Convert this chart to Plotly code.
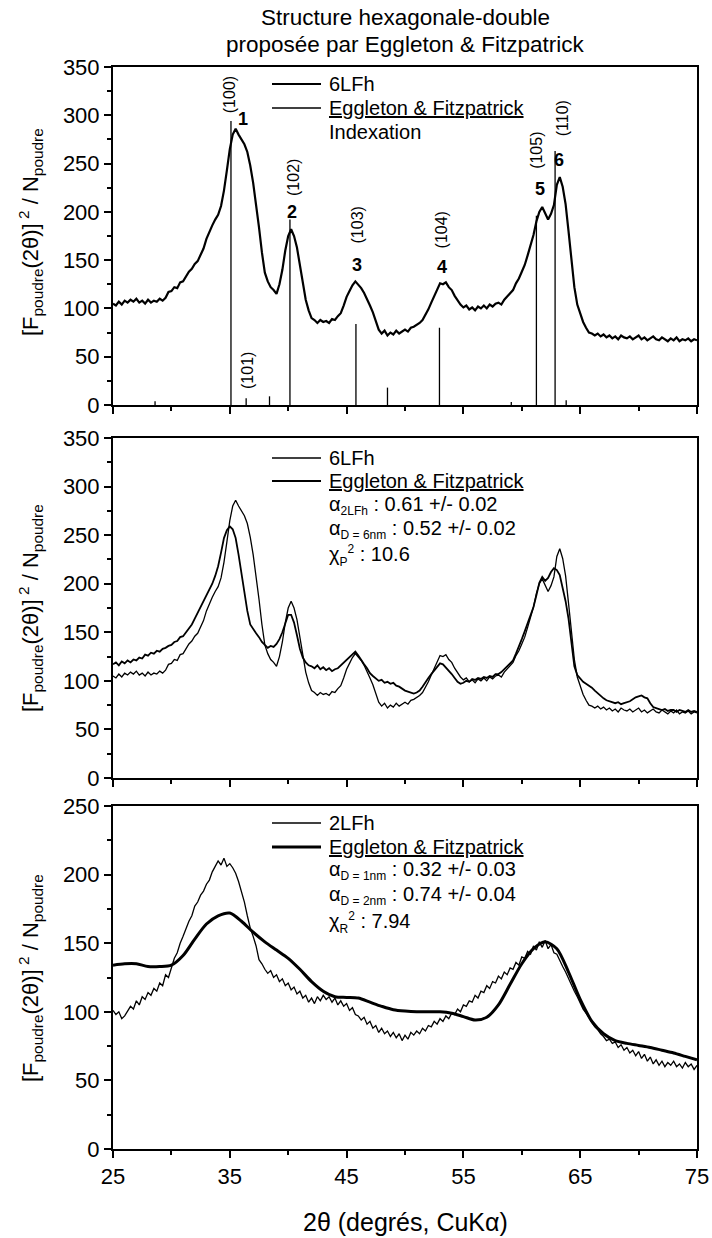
import plotly.graph_objects as go

# ---------------- data ----------------
two_theta = [25 + 0.25 * i for i in range(201)]

# 6LFh experimental powder pattern (panels 1 and 2)
lfh6 = [
    105, 103, 107, 104, 108, 106, 109, 107, 110, 106, 108, 105, 109, 106, 108, 107, 110, 108, 111, 117,
    118, 122, 121, 127, 128, 133, 138, 141, 146, 149, 155, 162, 172, 180, 186, 192, 197, 206, 222, 243,
    265, 280, 286, 280, 275, 270, 262, 248, 230, 208, 184, 158, 137, 128, 122, 119, 115, 125, 140, 160,
    175, 182, 175, 163, 145, 126, 109, 98, 90, 88, 85, 88, 86, 87, 85, 89, 88, 92, 95, 103,
    112, 118, 124, 128, 125, 121, 116, 110, 103, 96, 86, 78, 74, 77, 72, 75, 73, 77, 74, 76,
    78, 76, 80, 81, 83, 85, 88, 93, 99, 106, 113, 120, 126, 125, 127, 122, 119, 113, 108, 104,
    101, 103, 99, 101, 98, 102, 100, 103, 100, 104, 102, 105, 106, 104, 109, 112, 115, 119, 126, 131,
    138, 145, 155, 165, 176, 190, 200, 205, 198, 192, 198, 207, 228, 236, 226, 208, 180, 148, 122, 104,
    94, 86, 80, 75, 74, 72, 74, 71, 73, 70, 72, 69, 71, 68, 72, 70, 69, 71, 68, 70,
    72, 68, 70, 67, 69, 71, 68, 67, 70, 68, 66, 69, 67, 70, 66, 68, 67, 69, 66, 68,
    67,
]

# Eggleton & Fitzpatrick simulation for 6LFh (panel 2)
ef_6lfh = [
    117, 119, 116, 120, 118, 121, 119, 122, 121, 124, 123, 127, 126, 129, 128, 131, 130, 133, 134, 136,
    137, 140, 141, 145, 146, 150, 153, 158, 164, 170, 176, 181, 188, 194, 200, 208, 218, 232, 247, 255,
    259, 256, 247, 230, 211, 188, 172, 158, 153, 149, 145, 140, 137, 134, 136, 135, 138, 143, 150, 160,
    168, 168, 160, 147, 133, 124, 119, 116, 115, 113, 116, 112, 114, 111, 113, 110, 112, 113, 116, 119,
    122, 125, 128, 130, 126, 121, 117, 113, 108, 105, 102, 100, 101, 98, 99, 97, 98, 95, 94, 92,
    90, 89, 88, 87, 88, 90, 94, 99, 103, 107, 111, 115, 118, 117, 114, 111, 107, 103, 99, 97,
    98, 100, 99, 102, 101, 103, 102, 104, 103, 105, 104, 107, 107, 109, 112, 115, 118, 121, 128, 135,
    143, 151, 160, 168, 176, 188, 201, 207, 203, 206, 212, 216, 214, 209, 197, 182, 164, 140, 115, 106,
    102, 99, 97, 95, 93, 90, 87, 84, 82, 80, 79, 78, 77, 78, 76, 77, 78, 79, 81, 83,
    84, 85, 83, 82, 77, 73, 72, 71, 70, 71, 69, 70, 70, 68, 70, 69, 68, 70, 68, 69,
    68,
]

# 2LFh experimental powder pattern (panel 3)
lfh2 = [
    101, 98, 100, 95, 97, 101, 104, 102, 108, 105, 111, 109, 114, 112, 117, 115, 121, 119, 127, 125,
    133, 139, 143, 150, 155, 161, 166, 170, 177, 180, 185, 188, 193, 196, 202, 206, 210, 207, 212, 206,
    208, 205, 201, 195, 188, 180, 170, 161, 155, 148, 138, 135, 131, 128, 130, 125, 127, 122, 124, 119,
    121, 116, 118, 113, 115, 110, 112, 107, 110, 106, 111, 108, 112, 109, 111, 107, 110, 105, 108, 104,
    106, 101, 103, 98, 97, 94, 96, 91, 93, 88, 90, 85, 88, 84, 86, 82, 85, 81, 84, 79,
    83, 80, 85, 83, 86, 84, 88, 86, 90, 89, 93, 91, 95, 93, 97, 95, 99, 98, 102, 100,
    105, 104, 108, 107, 112, 110, 115, 114, 119, 117, 122, 121, 126, 124, 129, 127, 132, 131, 136, 134,
    140, 139, 144, 142, 148, 145, 151, 147, 152, 146, 149, 143, 142, 137, 133, 129, 124, 120, 115, 111,
    106, 102, 99, 96, 92, 89, 87, 84, 82, 79, 80, 77, 78, 74, 76, 72, 74, 70, 72, 68,
    71, 66, 69, 64, 67, 62, 65, 61, 64, 60, 63, 61, 64, 60, 62, 59, 63, 60, 62, 58,
    61,
]

# Eggleton & Fitzpatrick simulation for 2LFh (panel 3), smooth
model_theta = [25 + i for i in range(51)]
ef_2lfh = [
    134, 135, 135, 133, 133, 134, 141, 153, 164, 170,
    172, 166, 158, 151, 145, 139, 131, 122, 115, 111,
    110.5, 110, 107, 104, 101.5, 100.5, 100, 100, 100, 99,
    96.5, 94, 96, 105, 120, 135, 146, 151, 146, 129,
    109, 93, 84, 79, 77, 75.5, 74, 72, 70, 67.5,
    65,
]

# Indexation sticks (panel 1)
stick_pos = [28.6, 35.1, 36.4, 38.4, 40.15, 45.8, 48.5, 52.95, 59.1, 61.25, 62.85, 63.8]
stick_h = [4, 294, 7, 9, 192, 84, 18, 80, 3, 196, 263, 5]

hkl_text = ["(100)", "(101)", "(102)", "(103)", "(104)", "(105)", "(110)"]
hkl_x = [34.95, 36.45, 40.4, 45.9, 53.1, 61.2, 63.45]
hkl_y = [321, 36, 236, 186, 181, 264, 297]

peak_num = ["1", "2", "3", "4", "5", "6"]
peak_x = [36.15, 40.3, 45.9, 53.2, 61.6, 63.2]
peak_y = [296, 200, 145, 143, 224, 254]

# legend entries: (row pixel, label, line width)
legend_rows = [
    (84, "6LFh", 2.2), (108, "<u>Eggleton & Fitzpatrick</u>", 1.3),
    (458, "6LFh", 1.3), (481, "<u>Eggleton & Fitzpatrick</u>", 1.8),
    (823, "2LFh", 1.3), (847, "<u>Eggleton & Fitzpatrick</u>", 3.0),
]
SUB = '<sub><span style="font-size:12px">{}</span></sub>'
SUP = '<sup><span style="font-size:12px">{}</span></sup>'
extra_rows = [
    ("Indexation", 132),
    ("α" + SUB.format("2LFh") + " : 0.61 +/- 0.02", 505),
    ("α" + SUB.format("D = 6nm") + " : 0.52 +/- 0.02", 529),
    ("χ" + SUB.format("P") + SUP.format("2") + " : 10.6", 555),
    ("α" + SUB.format("D = 1nm") + " : 0.32 +/- 0.03", 870),
    ("α" + SUB.format("D = 2nm") + " : 0.74 +/- 0.04", 895),
    ("χ" + SUB.format("R") + SUP.format("2") + " : 7.94", 922),
]

FONT = "Liberation Sans, Arial, Helvetica, sans-serif"

# ---------------- figure ----------------
fig = go.Figure()

fig.add_trace(go.Scatter(x=two_theta, y=lfh6, mode="lines", name="6LFh",
                         line=dict(color="black", width=2.2), xaxis="x", yaxis="y"))
sx, sy = [], []
for p, h in zip(stick_pos, stick_h):
    sx += [p, p, None]
    sy += [0, h, None]
fig.add_trace(go.Scatter(x=sx, y=sy, mode="lines", name="Eggleton & Fitzpatrick",
                         line=dict(color="black", width=1.3), xaxis="x", yaxis="y"))

fig.add_trace(go.Scatter(x=two_theta, y=lfh6, mode="lines", name="6LFh",
                         line=dict(color="black", width=1.3), xaxis="x2", yaxis="y2"))
fig.add_trace(go.Scatter(x=two_theta, y=ef_6lfh, mode="lines", name="Eggleton & Fitzpatrick",
                         line=dict(color="black", width=1.8), xaxis="x2", yaxis="y2"))

fig.add_trace(go.Scatter(x=two_theta, y=lfh2, mode="lines", name="2LFh",
                         line=dict(color="black", width=1.3), xaxis="x3", yaxis="y3"))
fig.add_trace(go.Scatter(x=model_theta, y=ef_2lfh, mode="lines", name="Eggleton & Fitzpatrick",
                         line=dict(color="black", width=3, shape="spline", smoothing=0.8),
                         xaxis="x3", yaxis="y3"))

W, H = 712, 1238
ML, MR, MT, MB = 113, 15, 67, 89
PW, PH = W - ML - MR, H - MT - MB


def px_x(px):
    return (px - ML) / PW


def px_y(py):
    return 1 - (py - MT) / PH


def xaxis(anchor, labels):
    return dict(domain=[0, 1], anchor=anchor, range=[25, 75], tick0=25, dtick=10,
                ticks="outside", ticklen=7, tickwidth=1.5, tickcolor="black",
                showline=True, linewidth=2, linecolor="black", mirror=True,
                showgrid=False, zeroline=False, showticklabels=labels,
                tickfont=dict(family=FONT, size=22, color="black"),
                minor=dict(tick0=25, dtick=5, ticks="outside", ticklen=4,
                           tickwidth=1.5, tickcolor="black", showgrid=False))


def yaxis(anchor, dom, top):
    return dict(domain=dom, anchor=anchor, range=[0, top], tick0=0, dtick=50,
                ticks="outside", ticklen=7, tickwidth=1.5, tickcolor="black",
                showline=True, linewidth=2, linecolor="black", mirror=True,
                showgrid=False, zeroline=False,
                tickfont=dict(family=FONT, size=22, color="black"),
                minor=dict(tick0=0, dtick=25, ticks="outside", ticklen=4,
                           tickwidth=1.5, tickcolor="black", showgrid=False))


d1 = [px_y(405), px_y(67)]
d2 = [px_y(778), px_y(438)]
d3 = [px_y(1149), px_y(806)]

ann = []
shapes = []
ann.append(dict(text="Structure hexagonale-double", x=0.5, y=px_y(18), xref="paper",
                yref="paper", showarrow=False, font=dict(family=FONT, size=22.5, color="black"),
                xanchor="center", yanchor="middle"))
ann.append(dict(text="proposée par Eggleton & Fitzpatrick", x=0.5, y=px_y(45), xref="paper",
                yref="paper", showarrow=False, font=dict(family=FONT, size=22.5, color="black"),
                xanchor="center", yanchor="middle"))
ann.append(dict(text="2θ (degrés, CuKα)", x=0.5, y=px_y(1222), xref="paper", yref="paper",
                showarrow=False, font=dict(family=FONT, size=25, color="black"),
                xanchor="center", yanchor="middle"))
ytitle = "[F<sub>poudre</sub>(2θ)]<sup> 2</sup> / N<sub>poudre</sub>"
for cy in [232, 608, 978]:
    ann.append(dict(text=ytitle, x=px_x(30), y=px_y(cy), xref="paper", yref="paper",
                    showarrow=False, textangle=-90, font=dict(family=FONT, size=22, color="black"),
                    xanchor="center", yanchor="middle"))

for t, x, y in zip(hkl_text, hkl_x, hkl_y):
    ann.append(dict(text=t, x=x, y=y, xref="x", yref="y", showarrow=False, textangle=-90,
                    font=dict(family=FONT, size=16, color="black"),
                    xanchor="center", yanchor="middle"))
for t, x, y in zip(peak_num, peak_x, peak_y):
    ann.append(dict(text="<b>" + t + "</b>", x=x, y=y, xref="x", yref="y", showarrow=False,
                    font=dict(family=FONT, size=18, color="black"),
                    xanchor="center", yanchor="middle"))

TX = px_x(327)
for py, label, lw in legend_rows:
    shapes.append(dict(type="line", xref="paper", yref="paper", x0=px_x(272), x1=px_x(321),
                       y0=px_y(py), y1=px_y(py), line=dict(color="black", width=lw)))
    ann.append(dict(text=label, x=TX, y=px_y(py), xref="paper", yref="paper", showarrow=False,
                    font=dict(family=FONT, size=20, color="black"),
                    xanchor="left", yanchor="middle"))
for t, py in extra_rows:
    ann.append(dict(text=t, x=TX, y=px_y(py), xref="paper", yref="paper", showarrow=False,
                    font=dict(family=FONT, size=20, color="black"),
                    xanchor="left", yanchor="middle"))

fig.update_layout(
    width=W, height=H,
    margin=dict(l=ML, r=MR, t=MT, b=MB, autoexpand=False),
    paper_bgcolor="white", plot_bgcolor="white",
    font=dict(family=FONT, color="black"),
    xaxis=xaxis("y", False), yaxis=yaxis("x", d1, 350),
    xaxis2=xaxis("y2", False), yaxis2=yaxis("x2", d2, 350),
    xaxis3=xaxis("y3", True), yaxis3=yaxis("x3", d3, 250),
    showlegend=False,
    annotations=ann,
    shapes=shapes,
)

fig.write_html("out.html")
